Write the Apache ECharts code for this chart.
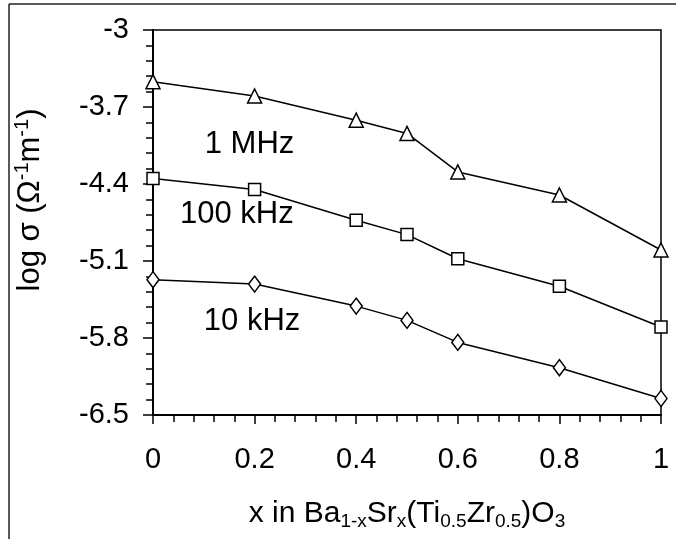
<!DOCTYPE html>
<html>
<head>
<meta charset="utf-8">
<script src="https://cdn.jsdelivr.net/npm/echarts@6/dist/echarts.min.js"></script>
<style>
html,body{margin:0;padding:0;background:#fff;}
#chart{width:676px;height:539px;}
</style>
</head>
<body>
<div id="chart"></div>
<script>
// ---- data ----
var xValues = [0, 0.2, 0.4, 0.5, 0.6, 0.8, 1];
var mhz1 = [-3.47, -3.60, -3.82, -3.94, -4.29, -4.50, -5.00];
var khz100 = [-4.35, -4.45, -4.73, -4.86, -5.08, -5.33, -5.70];
var khz10 = [-5.27, -5.31, -5.51, -5.64, -5.84, -6.07, -6.35];
var seriesNames = ['1 MHz', '100 kHz', '10 kHz'];
var yMajorTicks = [-6.5, -5.8, -5.1, -4.4, -3.7, -3];
var yMinorTicks = [];
for (var k = 0; k <= 25; k++) { yMinorTicks.push(Math.round((-6.5 + 0.14 * k) * 100) / 100); }
var xTickLabels = [0, 0.2, 0.4, 0.6, 0.8, 1];
// annotation anchor points (data coordinates)
var labelX = [0.19, 0.165, 0.195];
var labelY = [-4.045, -4.68, -5.65];

function pairs(ys) { return xValues.map(function (x, i) { return [x, ys[i]]; }); }

var FONT = 'Liberation Sans, Arial, sans-serif';
var chart = echarts.init(document.getElementById('chart'), null, {renderer: 'canvas'});

function mkSeries(name, ys, symbol, size) {
  return {
    name: name, type: 'line', yAxisIndex: 0, data: pairs(ys),
    symbol: symbol, symbolSize: size,
    lineStyle: {color: '#000', width: 1.5},
    itemStyle: {color: '#fff', borderColor: '#000', borderWidth: 1.5},
    emphasis: {disabled: true}, animation: false, z: 3
  };
}

var annotData = seriesNames.map(function (n, i) { return {value: [labelX[i], labelY[i]], name: n}; });

var option = {
  animation: false,
  backgroundColor: '#fff',
  grid: {left: 153, right: 15, top: 30, bottom: 124, show: true, borderColor: '#000', borderWidth: 1.5, backgroundColor: 'transparent'},
  xAxis: {
    type: 'value', min: 0, max: 1, interval: 0.2,
    axisLine: {lineStyle: {color: '#000', width: 2}},
    axisTick: {length: 9, lineStyle: {color: '#000', width: 1.5}},
    minorTick: {show: true, splitNumber: 5, length: 7, lineStyle: {color: '#000', width: 1.5}},
    splitLine: {show: false},
    axisLabel: {fontSize: 29, color: '#000', fontFamily: FONT, margin: 30,
      customValues: xTickLabels},
    name: 'x in Ba{s|1-x}Sr{s|x}(Ti{s|0.5}Zr{s|0.5})O{s|3}',
    nameLocation: 'middle', nameGap: 82,
    nameTextStyle: {fontSize: 30, color: '#000', fontFamily: FONT, lineHeight: 34,
      rich: {s: {fontSize: 19, fontFamily: FONT, color: '#000', lineHeight: 18, verticalAlign: 'bottom'}}}
  },
  yAxis: [{
    type: 'value', min: -6.5, max: -3, position: 'left',
    axisLine: {show: true, lineStyle: {color: '#000', width: 2}},
    axisTick: {show: true, length: 10, customValues: yMajorTicks, lineStyle: {color: '#000', width: 1.5}},
    splitLine: {show: false},
    axisLabel: {fontSize: 29, color: '#000', fontFamily: FONT, margin: 24, customValues: yMajorTicks}
  }, {
    type: 'value', min: -6.5, max: -3, position: 'left', offset: 0,
    axisLine: {show: false},
    axisTick: {show: true, length: 7, customValues: yMinorTicks, lineStyle: {color: '#000', width: 1.5}},
    splitLine: {show: false},
    axisLabel: {show: false}
  }],
  series: [
    mkSeries(seriesNames[0], mhz1, 'triangle', 14),
    mkSeries(seriesNames[1], khz100, 'rect', 12),
    mkSeries(seriesNames[2], khz10, 'diamond', [12, 16]),
    {
      type: 'scatter', yAxisIndex: 0, data: annotData, symbolSize: 1,
      itemStyle: {color: 'rgba(0,0,0,0)'}, silent: true, animation: false, z: 5,
      label: {show: true, position: 'inside', formatter: '{b}', color: '#000', fontSize: 31, fontFamily: FONT, opacity: 1}
    }
  ],
  graphic: [
    {type: 'line', shape: {x1: 9, y1: 4, x2: 676, y2: 4}, style: {stroke: '#222', lineWidth: 1.5}, silent: true},
    {type: 'line', shape: {x1: 9, y1: 4, x2: 9, y2: 539}, style: {stroke: '#222', lineWidth: 1.5}, silent: true},
    {type: 'text', x: 30, y: 200, rotation: Math.PI / 2, silent: true,
      style: {text: 'log σ (Ω{t|-1}m{t|-1})', fontSize: 31, fontFamily: FONT, fill: '#000',
        align: 'center', verticalAlign: 'middle', lineHeight: 36,
        rich: {t: {fontSize: 20, fontFamily: FONT, fill: '#000', lineHeight: 20, verticalAlign: 'top'}}}}
  ]
};
chart.setOption(option);
</script>
</body>
</html>
